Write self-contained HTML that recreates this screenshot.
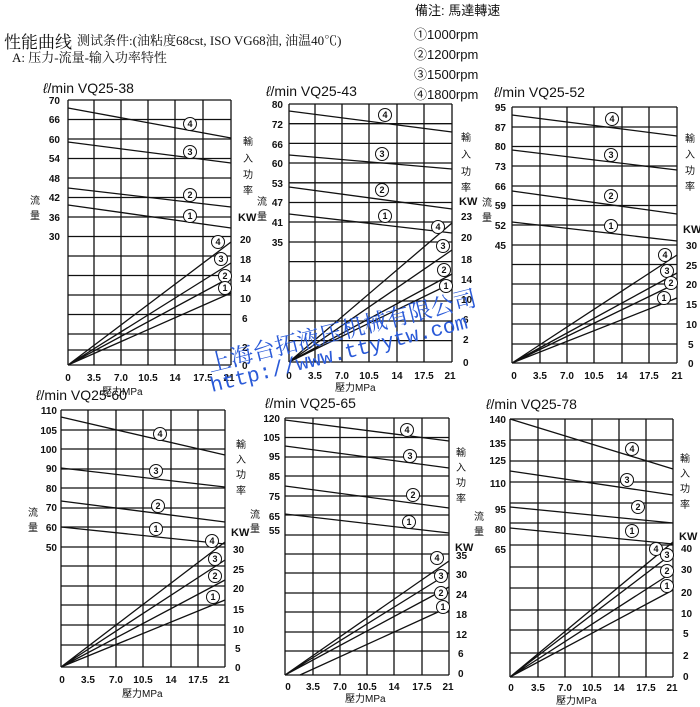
<!DOCTYPE html>
<html><head><meta charset="utf-8"><style>
html,body{margin:0;padding:0;background:#fff;}
svg{display:block;}
text{font-family:"Liberation Sans","Noto Sans CJK SC",sans-serif;fill:#111;}
.t{font-size:10px;font-weight:bold;}
.h{font-size:14px;}
.c{font-size:9px;font-weight:bold;text-anchor:middle;}
.cj{font-size:10px;text-anchor:middle;}
</style></head><body>
<svg width="700" height="707" viewBox="0 0 700 707" xmlns="http://www.w3.org/2000/svg">
<rect width="700" height="707" fill="#fff"/>
<!-- header -->
<text x="4" y="48" style="font-size:17px;font-family:'Liberation Serif','Noto Serif CJK SC',serif">性能曲线</text>
<text x="77" y="45" style="font-size:13px;font-family:'Liberation Serif','Noto Serif CJK SC',serif">测试条件:(油粘度68cst, ISO VG68油, 油温40℃)</text>
<text x="12" y="62" style="font-size:13px;font-family:'Liberation Serif','Noto Serif CJK SC',serif">A: 压力-流量-输入功率特性</text>
<text x="415" y="15" style="font-size:13px">備注: 馬達轉速</text>
<text x="414" y="39" style="font-size:13px">①1000rpm</text>
<text x="414" y="59" style="font-size:13px">②1200rpm</text>
<text x="414" y="79" style="font-size:13px">③1500rpm</text>
<text x="414" y="99" style="font-size:13px">④1800rpm</text>

<g stroke="#111" fill="none" stroke-width="1.3">
<!-- chart1 grid -->
<path d="M68 100H231M68 119.5H231M68 139H231M68 158.5H231M68 178H231M68 197.5H231M68 217H231M68 236.5H231M68 256H231M68 275.5H231M68 295H231M68 314.5H231M68 334H231M68 350H231M68 365H231M68 100V365M94 100V365M121 100V365M148 100V365M175 100V365M203 100V365M231 100V365"/>
<path d="M68 108L231 138M68 142L231 163M68 188L231 207M68 205L231 228M68 365L231 242M68 365L231 263M68 365L231 277M68 365L231 293"/>
<!-- chart2 -->
<path d="M289 104H452M289 123.7H452M289 143.4H452M289 163H452M289 182.8H452M289 202.5H452M289 222H452M289 242H452M289 261.6H452M289 281H452M289 301H452M289 321H452M289 340.6H452M289 362H452M289 104V362M315 104V362M342 104V362M369 104V362M397 104V362M424 104V362M452 104V362"/>
<path d="M289 111L452 132M289 155L452 169M289 187L452 209M289 214L452 233M289 362L452 223M289 362L452 250M289 362L452 274M289 362L452 283"/>
<!-- chart3 -->
<path d="M512 107H677M512 127H677M512 146.5H677M512 166H677M512 186H677M512 205.5H677M512 225H677M512 245H677M512 264.5H677M512 284H677M512 304H677M512 324H677M512 344H677M512 363H677M512 107V363M540 107V363M567 107V363M594 107V363M622 107V363M649 107V363M677 107V363"/>
<path d="M512 115L677 136M512 150L677 170M512 191L677 214M512 222L677 241M512 363L677 255M512 363L677 273M512 363L677 283M512 363L677 298"/>
<!-- chart4 -->
<path d="M61 410H225M61 430H225M61 449H225M61 469H225M61 488H225M61 508H225M61 527H225M61 547H225M61 566H225M61 586H225M61 605H225M61 625H225M61 645H225M61 667H225M61 410V667M88 410V667M116 410V667M143 410V667M171 410V667M198 410V667M225 410V667"/>
<path d="M61 417L225 455M61 468L225 487M61 501L225 522M61 527L225 544M61 667L225 542M61 667L225 560M61 667L225 580M61 667L225 600"/>
<!-- chart5 -->
<path d="M285 418H449M285 437.5H449M285 457H449M285 476H449M285 496H449M285 515H449M285 535H449M285 554H449M285 573H449M285 593H449M285 612H449M285 632H449M285 651H449M285 675H449M285 418V675M313 418V675M340 418V675M367 418V675M394 418V675M422 418V675M449 418V675"/>
<path d="M285 420L449 441M285 446L449 468M285 486L449 508M285 514L449 533M285 675L449 561M285 675L449 573M285 675L449 587M300 675L449 607"/>
<!-- chart6 -->
<path d="M510 419H673M510 440H673M510 461H673M510 482H673M510 503H673M510 523H673M510 545H673M510 567H673M510 588H673M510 610H673M510 630H673M510 653H673M510 677H673M510 419V677M538 419V677M565 419V677M592 419V677M619 419V677M646 419V677M673 419V677"/>
<path d="M510 419L673 469M510 471L673 495M510 507L673 523M510 528L673 544M510 677L673 542M510 677L673 553M510 677L673 572M510 677L673 590"/>
</g>

<!-- circled labels -->
<g fill="#fff" stroke="#111" stroke-width="1">
<circle cx="190" cy="124" r="6.5"/><circle cx="190" cy="152" r="6.5"/><circle cx="190" cy="195" r="6.5"/><circle cx="190" cy="216" r="6.5"/>
<circle cx="218" cy="242" r="6.5"/><circle cx="221" cy="259" r="6.5"/><circle cx="225" cy="276" r="6.5"/><circle cx="225" cy="288" r="6.5"/>
<circle cx="385" cy="115" r="6.5"/><circle cx="382" cy="154" r="6.5"/><circle cx="382" cy="190" r="6.5"/><circle cx="385" cy="216" r="6.5"/>
<circle cx="438" cy="227" r="6.5"/><circle cx="443" cy="246" r="6.5"/><circle cx="444" cy="270" r="6.5"/><circle cx="446" cy="286" r="6.5"/>
<circle cx="612" cy="119" r="6.5"/><circle cx="611" cy="155" r="6.5"/><circle cx="611" cy="196" r="6.5"/><circle cx="611" cy="226" r="6.5"/>
<circle cx="665" cy="255" r="6.5"/><circle cx="667" cy="271" r="6.5"/><circle cx="671" cy="283" r="6.5"/><circle cx="664" cy="298" r="6.5"/>
<circle cx="160" cy="434" r="6.5"/><circle cx="156" cy="471" r="6.5"/><circle cx="158" cy="506" r="6.5"/><circle cx="156" cy="529" r="6.5"/>
<circle cx="212" cy="541" r="6.5"/><circle cx="215" cy="559" r="6.5"/><circle cx="215" cy="576" r="6.5"/><circle cx="213" cy="597" r="6.5"/>
<circle cx="407" cy="430" r="6.5"/><circle cx="410" cy="456" r="6.5"/><circle cx="413" cy="495" r="6.5"/><circle cx="409" cy="522" r="6.5"/>
<circle cx="437" cy="558" r="6.5"/><circle cx="441" cy="576" r="6.5"/><circle cx="441" cy="593" r="6.5"/><circle cx="443" cy="607" r="6.5"/>
<circle cx="632" cy="449" r="6.5"/><circle cx="627" cy="480" r="6.5"/><circle cx="638" cy="507" r="6.5"/><circle cx="632" cy="531" r="6.5"/>
<circle cx="656" cy="549" r="6.5"/><circle cx="667" cy="555" r="6.5"/><circle cx="667" cy="571" r="6.5"/><circle cx="667" cy="586" r="6.5"/>
</g>
<g class="c">
<text class="c" x="190" y="127">4</text><text class="c" x="190" y="155">3</text><text class="c" x="190" y="198">2</text><text class="c" x="190" y="219">1</text>
<text class="c" x="218" y="245">4</text><text class="c" x="221" y="262">3</text><text class="c" x="225" y="279">2</text><text class="c" x="225" y="291">1</text>
<text class="c" x="385" y="118">4</text><text class="c" x="382" y="157">3</text><text class="c" x="382" y="193">2</text><text class="c" x="385" y="219">1</text>
<text class="c" x="438" y="230">4</text><text class="c" x="443" y="249">3</text><text class="c" x="444" y="273">2</text><text class="c" x="446" y="289">1</text>
<text class="c" x="612" y="122">4</text><text class="c" x="611" y="158">3</text><text class="c" x="611" y="199">2</text><text class="c" x="611" y="229">1</text>
<text class="c" x="665" y="258">4</text><text class="c" x="667" y="274">3</text><text class="c" x="671" y="286">2</text><text class="c" x="664" y="301">1</text>
<text class="c" x="160" y="437">4</text><text class="c" x="156" y="474">3</text><text class="c" x="158" y="509">2</text><text class="c" x="156" y="532">1</text>
<text class="c" x="212" y="544">4</text><text class="c" x="215" y="562">3</text><text class="c" x="215" y="579">2</text><text class="c" x="213" y="600">1</text>
<text class="c" x="407" y="433">4</text><text class="c" x="410" y="459">3</text><text class="c" x="413" y="498">2</text><text class="c" x="409" y="525">1</text>
<text class="c" x="437" y="561">4</text><text class="c" x="441" y="579">3</text><text class="c" x="441" y="596">2</text><text class="c" x="443" y="610">1</text>
<text class="c" x="632" y="452">4</text><text class="c" x="627" y="483">3</text><text class="c" x="638" y="510">2</text><text class="c" x="632" y="534">1</text>
<text class="c" x="656" y="552">4</text><text class="c" x="667" y="558">3</text><text class="c" x="667" y="574">2</text><text class="c" x="667" y="589">1</text>
</g>

<!-- titles -->
<text x="43" y="93" style="font-size:14px"><tspan font-style="italic">ℓ</tspan>/min  VQ25-38</text>
<text x="266" y="96" style="font-size:14px"><tspan font-style="italic">ℓ</tspan>/min  VQ25-43</text>
<text x="494" y="97" style="font-size:14px"><tspan font-style="italic">ℓ</tspan>/min  VQ25-52</text>
<text x="36" y="400" style="font-size:14px"><tspan font-style="italic">ℓ</tspan>/min  VQ25-60</text>
<text x="265" y="408" style="font-size:14px"><tspan font-style="italic">ℓ</tspan>/min  VQ25-65</text>
<text x="486" y="409" style="font-size:14px"><tspan font-style="italic">ℓ</tspan>/min  VQ25-78</text>

<!-- left tick labels -->
<g class="t" text-anchor="end">
<text x="60" y="104">70</text><text x="60" y="123">66</text><text x="60" y="143">60</text><text x="60" y="162">54</text><text x="60" y="182">48</text><text x="60" y="201">42</text><text x="60" y="221">36</text><text x="60" y="240">30</text>
<text x="283" y="108">80</text><text x="283" y="128">72</text><text x="283" y="148">66</text><text x="283" y="167">60</text><text x="283" y="187">53</text><text x="283" y="206">47</text><text x="283" y="226">41</text><text x="283" y="246">35</text>
<text x="506" y="111">95</text><text x="506" y="131">87</text><text x="506" y="150">80</text><text x="506" y="170">73</text><text x="506" y="190">66</text><text x="506" y="209">59</text><text x="506" y="229">52</text><text x="506" y="249">45</text>
<text x="57" y="414">110</text><text x="57" y="434">105</text><text x="57" y="453">100</text><text x="57" y="472">90</text><text x="57" y="492">80</text><text x="57" y="511">70</text><text x="57" y="531">60</text><text x="57" y="551">50</text>
<text x="280" y="422">120</text><text x="280" y="441">105</text><text x="280" y="460">95</text><text x="280" y="480">85</text><text x="280" y="500">75</text><text x="280" y="520">65</text><text x="280" y="534">55</text>
<text x="506" y="423">140</text><text x="506" y="447">135</text><text x="506" y="464">125</text><text x="506" y="487">110</text><text x="506" y="513">95</text><text x="506" y="533">80</text><text x="506" y="553">65</text>
</g>
<!-- right tick labels -->
<g class="t">
<text x="240" y="243">20</text><text x="240" y="263">18</text><text x="240" y="282">14</text><text x="240" y="302">10</text><text x="242" y="322">6</text><text x="242" y="351">2</text><text x="242" y="369">0</text>
<text x="238" y="221" style="font-size:11px">KW</text>
<text x="459" y="205" style="font-size:11px">KW</text>
<text x="461" y="220">23</text><text x="461" y="241">20</text><text x="461" y="263">18</text><text x="461" y="283">14</text><text x="461" y="303">10</text><text x="463" y="323">6</text><text x="463" y="343">2</text><text x="463" y="366">0</text>
<text x="683" y="233" style="font-size:11px">KW</text>
<text x="686" y="249">30</text><text x="686" y="269">25</text><text x="686" y="288">20</text><text x="686" y="308">15</text><text x="686" y="328">10</text><text x="688" y="348">5</text><text x="688" y="367">0</text>
<text x="231" y="536" style="font-size:11px">KW</text>
<text x="233" y="553">30</text><text x="233" y="573">25</text><text x="233" y="592">20</text><text x="233" y="613">15</text><text x="233" y="633">10</text><text x="235" y="652">5</text><text x="235" y="671">0</text>
<text x="455" y="551" style="font-size:11px">KW</text>
<text x="456" y="559">35</text><text x="456" y="578">30</text><text x="456" y="598">24</text><text x="456" y="618">18</text><text x="456" y="638">12</text><text x="458" y="657">6</text><text x="458" y="677">0</text>
<text x="679" y="540" style="font-size:11px">KW</text>
<text x="681" y="552">40</text><text x="681" y="573">30</text><text x="681" y="596">20</text><text x="681" y="617">10</text><text x="683" y="637">5</text><text x="683" y="659">2</text><text x="683" y="680">0</text>
</g>
<!-- x axis labels -->
<g class="t" text-anchor="middle">
<text x="68" y="381">0</text><text x="94" y="381">3.5</text><text x="121" y="381">7.0</text><text x="148" y="381">10.5</text><text x="175" y="381">14</text><text x="203" y="381">17.5</text><text x="229" y="381">21</text>
<text x="289" y="379">0</text><text x="315" y="379">3.5</text><text x="342" y="379">7.0</text><text x="369" y="379">10.5</text><text x="397" y="379">14</text><text x="424" y="379">17.5</text><text x="450" y="379">21</text>
<text x="514" y="379">0</text><text x="540" y="379">3.5</text><text x="567" y="379">7.0</text><text x="594" y="379">10.5</text><text x="622" y="379">14</text><text x="649" y="379">17.5</text><text x="677" y="379">21</text>
<text x="62" y="683">0</text><text x="88" y="683">3.5</text><text x="116" y="683">7.0</text><text x="143" y="683">10.5</text><text x="171" y="683">14</text><text x="198" y="683">17.5</text><text x="224" y="683">21</text>
<text x="288" y="690">0</text><text x="313" y="690">3.5</text><text x="340" y="690">7.0</text><text x="367" y="690">10.5</text><text x="394" y="690">14</text><text x="422" y="690">17.5</text><text x="448" y="690">21</text>
<text x="511" y="691">0</text><text x="538" y="691">3.5</text><text x="565" y="691">7.0</text><text x="592" y="691">10.5</text><text x="619" y="691">14</text><text x="646" y="691">17.5</text><text x="672" y="691">21</text>
</g>
<g style="font-size:10px">
<text x="102" y="395">壓力MPa</text>
<text x="335" y="391">壓力MPa</text>
<text x="122" y="697">壓力MPa</text>
<text x="345" y="702">壓力MPa</text>
<text x="556" y="704">壓力MPa</text>
</g>
<!-- vertical CJK labels -->
<g class="cj">
<text x="35" y="204">流</text><text x="35" y="219">量</text>
<text x="248" y="145">輸</text><text x="248" y="162">入</text><text x="248" y="178">功</text><text x="248" y="194">率</text>
<text x="262" y="205">流</text><text x="262" y="220">量</text>
<text x="466" y="141">輸</text><text x="466" y="158">入</text><text x="466" y="175">功</text><text x="466" y="191">率</text>
<text x="487" y="206">流</text><text x="487" y="221">量</text>
<text x="690" y="142">輸</text><text x="690" y="158">入</text><text x="690" y="174">功</text><text x="690" y="190">率</text>
<text x="33" y="516">流</text><text x="33" y="531">量</text>
<text x="241" y="448">輸</text><text x="241" y="463">入</text><text x="241" y="478">功</text><text x="241" y="494">率</text>
<text x="255" y="518">流</text><text x="255" y="532">量</text>
<text x="461" y="456">輸</text><text x="461" y="471">入</text><text x="461" y="486">功</text><text x="461" y="502">率</text>
<text x="479" y="520">流</text><text x="479" y="535">量</text>
<text x="685" y="462">輸</text><text x="685" y="477">入</text><text x="685" y="492">功</text><text x="685" y="508">率</text>
</g>
<!-- watermark -->
<g fill="#2a5ad8" style="font-family:'Liberation Serif','Noto Serif CJK SC',serif">
<text x="210" y="372" transform="rotate(-14 210 372)" style="font-size:23px;fill:#2a5ad8;font-family:'Noto Serif CJK SC',serif">上海台拓液压机械有限公司</text>
<text x="212" y="392" transform="rotate(-14 212 392)" style="font-size:21px;fill:#2a5ad8;font-family:'Liberation Mono',monospace">http://www.ttyytw.com</text>
</g>
</svg>
</body></html>
